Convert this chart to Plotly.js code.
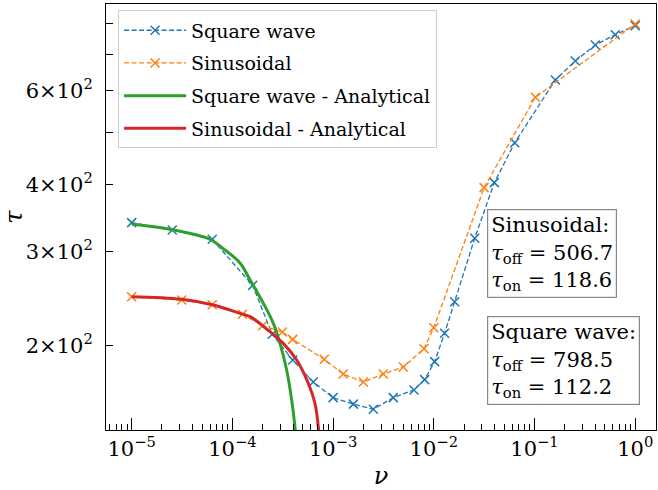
<!DOCTYPE html>
<html>
<head>
<meta charset="utf-8">
<script src="https://cdn.plot.ly/plotly-3.0.1.min.js"></script>
<style>html,body{margin:0;padding:0;background:#fff;}#chart{width:658px;height:490px;}</style>
</head>
<body>
<div id="chart"></div>
<script>
// Measured data: square wave forcing
const squareNu = [1e-5, 2.53e-5, 6.31e-5, 1.59e-4, 2.49e-4, 3.97e-4, 6.36e-4, 1.0e-3, 1.59e-3, 2.51e-3, 3.96e-3, 6.36e-3, 8.12e-3, 1.02e-2, 1.28e-2, 1.61e-2, 2.55e-2, 3.99e-2, 6.36e-2, 0.161, 0.254, 0.402, 0.634, 1.0];
const squareTau = [339.5, 328.9, 316, 259, 209.7, 187.7, 170.7, 159.6, 155.2, 151.8, 159.6, 165, 172.5, 186.4, 210.6, 241.3, 317.4, 403.5, 479.2, 628, 681.8, 730.5, 763.7, 793.7];
// Measured data: sinusoidal forcing
const sinNu = [1e-5, 3.14e-5, 6.31e-5, 1.26e-4, 2.0e-4, 3.13e-4, 3.97e-4, 8.18e-4, 1.26e-3, 2.0e-3, 3.15e-3, 4.98e-3, 8.0e-3, 1.0e-2, 3.16e-2, 0.102, 1.0];
const sinTau = [246.6, 243.1, 238.3, 228.7, 217.6, 211.8, 205.2, 188.3, 176.7, 170.7, 176.7, 182.1, 197.1, 215.8, 394.8, 583.1, 799.7];
// Analytical curves
const sqAnaNu = [1e-5, 2.4e-5, 6.0e-5, 7.5e-5, 1.19e-4, 1.5e-4, 2.03e-4, 2.55e-4, 2.97e-4, 3.46e-4, 3.88e-4, 4.18e-4, 4.25e-4];
const sqAnaTau = [337.6, 329.9, 316, 306.9, 285.3, 265.1, 239.8, 219.9, 201.7, 179.8, 157.9, 140.8, 136];
const sinAnaNu = [1e-5, 3.14e-5, 6.46e-5, 1.19e-4, 1.5e-4, 2.36e-4, 3.2e-4, 4.35e-4, 5.67e-4, 6.61e-4, 7.13e-4, 7.25e-4];
const sinAnaTau = [246.6, 243.9, 238, 229.6, 226.3, 212.1, 201.7, 187.7, 169.8, 155.7, 140.8, 136];

const xTickVals = [1e-5, 1e-4, 1e-3, 1e-2, 1e-1, 1];
const xTickText = ["10<sup>\u22125</sup>", "10<sup>\u22124</sup>", "10<sup>\u22123</sup>", "10<sup>\u22122</sup>", "10<sup>\u22121</sup>", "10<sup>0</sup>"];
const yTickVals = [200, 300, 400, 500, 600, 700, 800];
const yTickText = ["2\u00d710<sup>2</sup>", "3\u00d710<sup>2</sup>", "4\u00d710<sup>2</sup>", "", "6\u00d710<sup>2</sup>", "", ""];

const C = {blue:'#1f77b4', orange:'#ff7f0e', green:'#2ca02c', red:'#d62728'};
const FONT = 'DejaVu Serif';

// minor x tick positions
const xMinor = [];
for (let e = -6; e <= 0; e++) for (let m = 2; m <= 9; m++) xMinor.push(m * Math.pow(10, e));

const traces = [
  {x: squareNu, y: squareTau, name: 'Square wave', legendgroup: 'a', mode: 'lines+markers', type: 'scatter',
   line: {color: C.blue, width: 1.3, dash: '5px,2.5px'},
   marker: {symbol: 'x-thin', size: 9, color: C.blue, line: {width: 1.5, color: C.blue}}},
  {x: sinNu, y: sinTau, name: 'Sinusoidal', legendgroup: 'b', mode: 'lines+markers', type: 'scatter',
   line: {color: C.orange, width: 1.3, dash: '5px,2.5px'},
   marker: {symbol: 'x-thin', size: 9, color: C.orange, line: {width: 1.5, color: C.orange}}},
  {x: sqAnaNu, y: sqAnaTau, name: 'Square wave - Analytical', legendgroup: 'c', mode: 'lines', type: 'scatter',
   line: {color: C.green, width: 3, shape: 'spline'}},
  {x: sinAnaNu, y: sinAnaTau, name: 'Sinusoidal - Analytical', legendgroup: 'd', mode: 'lines', type: 'scatter',
   line: {color: C.red, width: 3, shape: 'spline'}}
];

const layout = {
  width: 658, height: 490,
  margin: {l: 106, r: 2, t: 4, b: 60},
  paper_bgcolor: '#fff', plot_bgcolor: '#fff',
  font: {family: FONT, size: 20, color: '#000'},
  showlegend: true,
  legend: {x: 0.022, y: 0.985, xanchor: 'left', yanchor: 'top',
           bgcolor: 'rgba(255,255,255,0.9)', bordercolor: '#cccccc', borderwidth: 1,
           font: {family: FONT, size: 19, color: '#000'}, tracegroupgap: 5, itemwidth: 62},
  xaxis: {type: 'log', range: [-5.255, 0.2066], showgrid: false, zeroline: false,
          showline: true, linecolor: '#000', linewidth: 1, mirror: true,
          tickmode: 'array', tickvals: xTickVals, ticktext: xTickText,
          ticks: 'inside', ticklen: 12, tickwidth: 1, tickcolor: '#000',
          tickfont: {family: FONT, size: 21, color: '#000'},
          minor: {tickmode: 'array', tickvals: xMinor, ticks: 'inside', ticklen: 6, tickwidth: 1, tickcolor: '#000', showgrid: false},
          title: {text: '<i>\u03bd</i>', font: {family: FONT, size: 24, color: '#000'}, standoff: 8}},
  yaxis: {type: 'log', range: [2.1424, 2.9404], showgrid: false, zeroline: false,
          showline: true, linecolor: '#000', linewidth: 1, mirror: true,
          tickmode: 'array', tickvals: yTickVals, ticktext: yTickText,
          ticks: 'inside', ticklen: 7, tickwidth: 1, tickcolor: '#000', ticklabelstandoff: 8,
          tickfont: {family: FONT, size: 21, color: '#000'},
          title: {text: '<i>\u03c4</i>', font: {family: FONT, size: 24, color: '#000'}, standoff: 4}},
  annotations: [
    {xref: 'paper', yref: 'paper', x: 0.6927, y: 0.5188, xanchor: 'left', yanchor: 'top',
     align: 'left', showarrow: false,
     text: 'Sinusoidal:<br><i>\u03c4</i><sub>off</sub> = 506.7<br><i>\u03c4</i><sub>on</sub> = 118.6',
     font: {family: FONT, size: 21, color: '#000'}, bgcolor: '#fff', bordercolor: '#888', borderwidth: 1.2, borderpad: 3},
    {xref: 'paper', yref: 'paper', x: 0.6927, y: 0.2676, xanchor: 'left', yanchor: 'top',
     align: 'left', showarrow: false,
     text: 'Square wave:<br><i>\u03c4</i><sub>off</sub> = 798.5<br><i>\u03c4</i><sub>on</sub> = 112.2',
     font: {family: FONT, size: 21, color: '#000'}, bgcolor: '#fff', bordercolor: '#888', borderwidth: 1.2, borderpad: 3}
  ]
};

Plotly.newPlot('chart', traces, layout, {displayModeBar: false, staticPlot: true});
</script>
</body>
</html>
